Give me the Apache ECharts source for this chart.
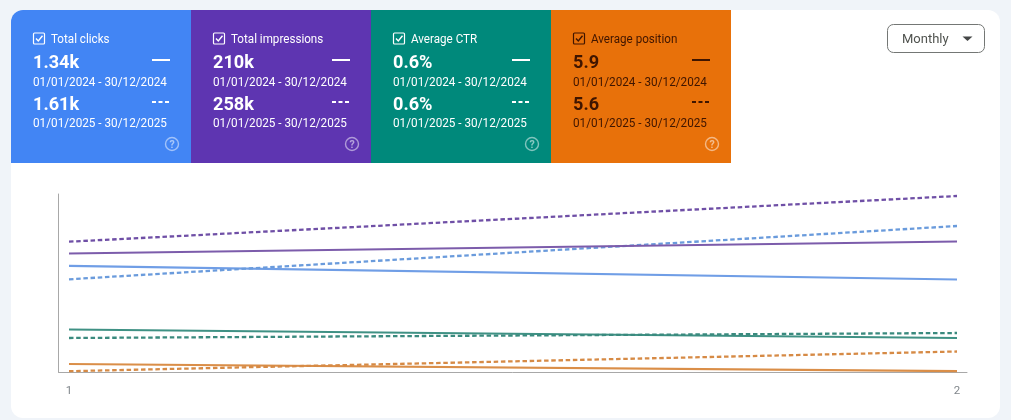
<!DOCTYPE html>
<html>
<head>
<meta charset="utf-8">
<style>html,body{margin:0;padding:0;background:#f0f4f9}#c{width:1011px;height:420px}</style>
<script src="https://cdn.jsdelivr.net/npm/echarts@6/dist/echarts.min.js"></script>
</head>
<body>
<div id="c"></div>
<script>
// Data (vertical values are on one shared, normalised plot scale)
const xTicks = [1, 2];
const clicks2024 = [106.2, 92.5];
const clicks2025 = [92.7, 146];
const impressions2024 = [118.5, 130.5];
const impressions2025 = [130.3, 176];
const ctr2024 = [42.5, 34];
const ctr2025 = [34, 39];
const position2024 = [8, 0.8];
const position2025 = [0.8, 20.5];

const tileTitles = ['Total clicks', 'Total impressions', 'Average CTR', 'Average position'];
const tileValues2024 = ['1.34k', '210k', '0.6%', '5.9'];
const tileValues2025 = ['1.61k', '258k', '0.6%', '5.6'];
const range2024 = '01/01/2024 - 30/12/2024';
const range2025 = '01/01/2025 - 30/12/2025';
const tileFills = ['#4285f4', '#5e35b1', '#00897b', '#e8710a'];
const tileInks = ['#ffffff', '#ffffff', '#ffffff', '#3f1500'];
const lineColors = ['#709ee6', '#7c5cab', '#3f9184', '#da8e48'];
const dashDark = ['#6a9bdc', '#6f4fa6', '#3a8a7e', '#d68a45'];
const periodLabel = 'Monthly';

const font = 'Roboto, sans-serif';
const graphics = [];
graphics.push({type:'rect', z:0, silent:true, shape:{x:11,y:10,width:989,height:408,r:12}, style:{fill:'#ffffff'}});

tileTitles.forEach((title, i) => {
  const x0 = 11 + i * 180, ink = tileInks[i];
  graphics.push({type:'rect', z:1, silent:true, shape:{x:x0,y:10,width:180,height:153,r:i===0?[12,0,0,0]:0}, style:{fill:tileFills[i]}});
  // checkbox
  graphics.push({type:'rect', z:2, silent:true, shape:{x:x0+22.5,y:33,width:11,height:11,r:1}, style:{fill:'none',stroke:ink,lineWidth:1.2}});
  graphics.push({type:'polyline', z:2, silent:true, shape:{points:[[x0+25,38.5],[x0+27.3,41],[x0+31.5,35.8]]}, style:{fill:'none',stroke:ink,lineWidth:1.4}});
  const txt = (text, x, y, size, weight, sx) => graphics.push({type:'text', z:3, silent:true, x, y, scaleX:sx, style:{text, x:0, y:0, fill:ink, font:`${weight} ${size}px ${font}`, textVerticalAlign:'middle', textBaseline:'middle', textAlign:'left'}});
  txt(title, x0+40, 39.5, 12.5, 400, 0.93);
  txt(tileValues2024[i], x0+22, 63, 18.5, 700, 0.98);
  txt(range2024, x0+22, 83.2, 12, 400, 0.978);
  txt(tileValues2025[i], x0+22, 105.2, 18.5, 700, 0.98);
  txt(range2025, x0+22, 124, 12, 400, 0.978);
  // legend swatches
  graphics.push({type:'line', z:3, silent:true, shape:{x1:x0+141,y1:60,x2:x0+159,y2:60}, style:{stroke:ink,lineWidth:2}});
  graphics.push({type:'line', z:3, silent:true, shape:{x1:x0+141,y1:102,x2:x0+159,y2:102}, style:{stroke:ink,lineWidth:2,lineDash:[4,2.5]}});
  // help icon
  graphics.push({type:'circle', z:3, silent:true, shape:{cx:x0+161,cy:144,r:6.5}, style:{fill:'none',stroke:'rgba(255,255,255,0.5)',lineWidth:1.4}});
  graphics.push({type:'text', z:3, silent:true, style:{text:'?', x:x0+161, y:145, fill:'rgba(255,255,255,0.55)', font:`700 10.5px ${font}`, textAlign:'center', textVerticalAlign:'middle', textBaseline:'middle'}});
});

// dropdown
graphics.push({type:'rect', z:2, silent:true, shape:{x:887.5,y:24.5,width:97,height:28,r:6}, style:{fill:'#ffffff',stroke:'#747775',lineWidth:1}});
graphics.push({type:'text', z:3, silent:true, style:{text:periodLabel, x:902, y:39.5, fill:'#50534f', font:`400 13px ${font}`, textAlign:'left', textVerticalAlign:'middle', textBaseline:'middle'}});
graphics.push({type:'polygon', z:3, silent:true, shape:{points:[[962.5,36.5],[972.5,36.5],[967.5,41]]}, style:{fill:'#444746'}});

const mk = (data, i, dashed) => ({
  type:'line', data: xTicks.map((t, k) => [t, data[k]]), symbol:'none', silent:true, animation:false,
  lineStyle: dashed ? {color:dashDark[i], width:2.3, type:[4.5,2.7]} : {color:lineColors[i], width:2.2}
});

const chart = echarts.init(document.getElementById('c'), null, {renderer:'canvas'});
chart.setOption({
  animation:false,
  backgroundColor:'#f0f4f9',
  grid:{left:58.5, right:44, top:194, height:178},
  xAxis:{type:'value', min:1-10.5/888.5, max:2+10/888.5, splitLine:{show:false},
    axisLine:{show:true, lineStyle:{color:'#a8a8a8', width:1}}, axisTick:{show:false},
    axisLabel:{customValues:xTicks, color:'#80868b', fontSize:11.5, fontFamily:font, margin:13, formatter:v=>String(v)}},
  yAxis:{type:'value', min:0, max:178, splitLine:{show:false},
    axisLine:{show:true, lineStyle:{color:'#a8a8a8', width:1}}, axisTick:{show:false}, axisLabel:{show:false}},
  series:[
    mk(clicks2024,0,false), mk(clicks2025,0,true),
    mk(impressions2024,1,false), mk(impressions2025,1,true),
    mk(ctr2024,2,false), mk(ctr2025,2,true),
    mk(position2024,3,false), mk(position2025,3,true)
  ],
  graphic:{elements:graphics}
});
</script>
</body>
</html>
